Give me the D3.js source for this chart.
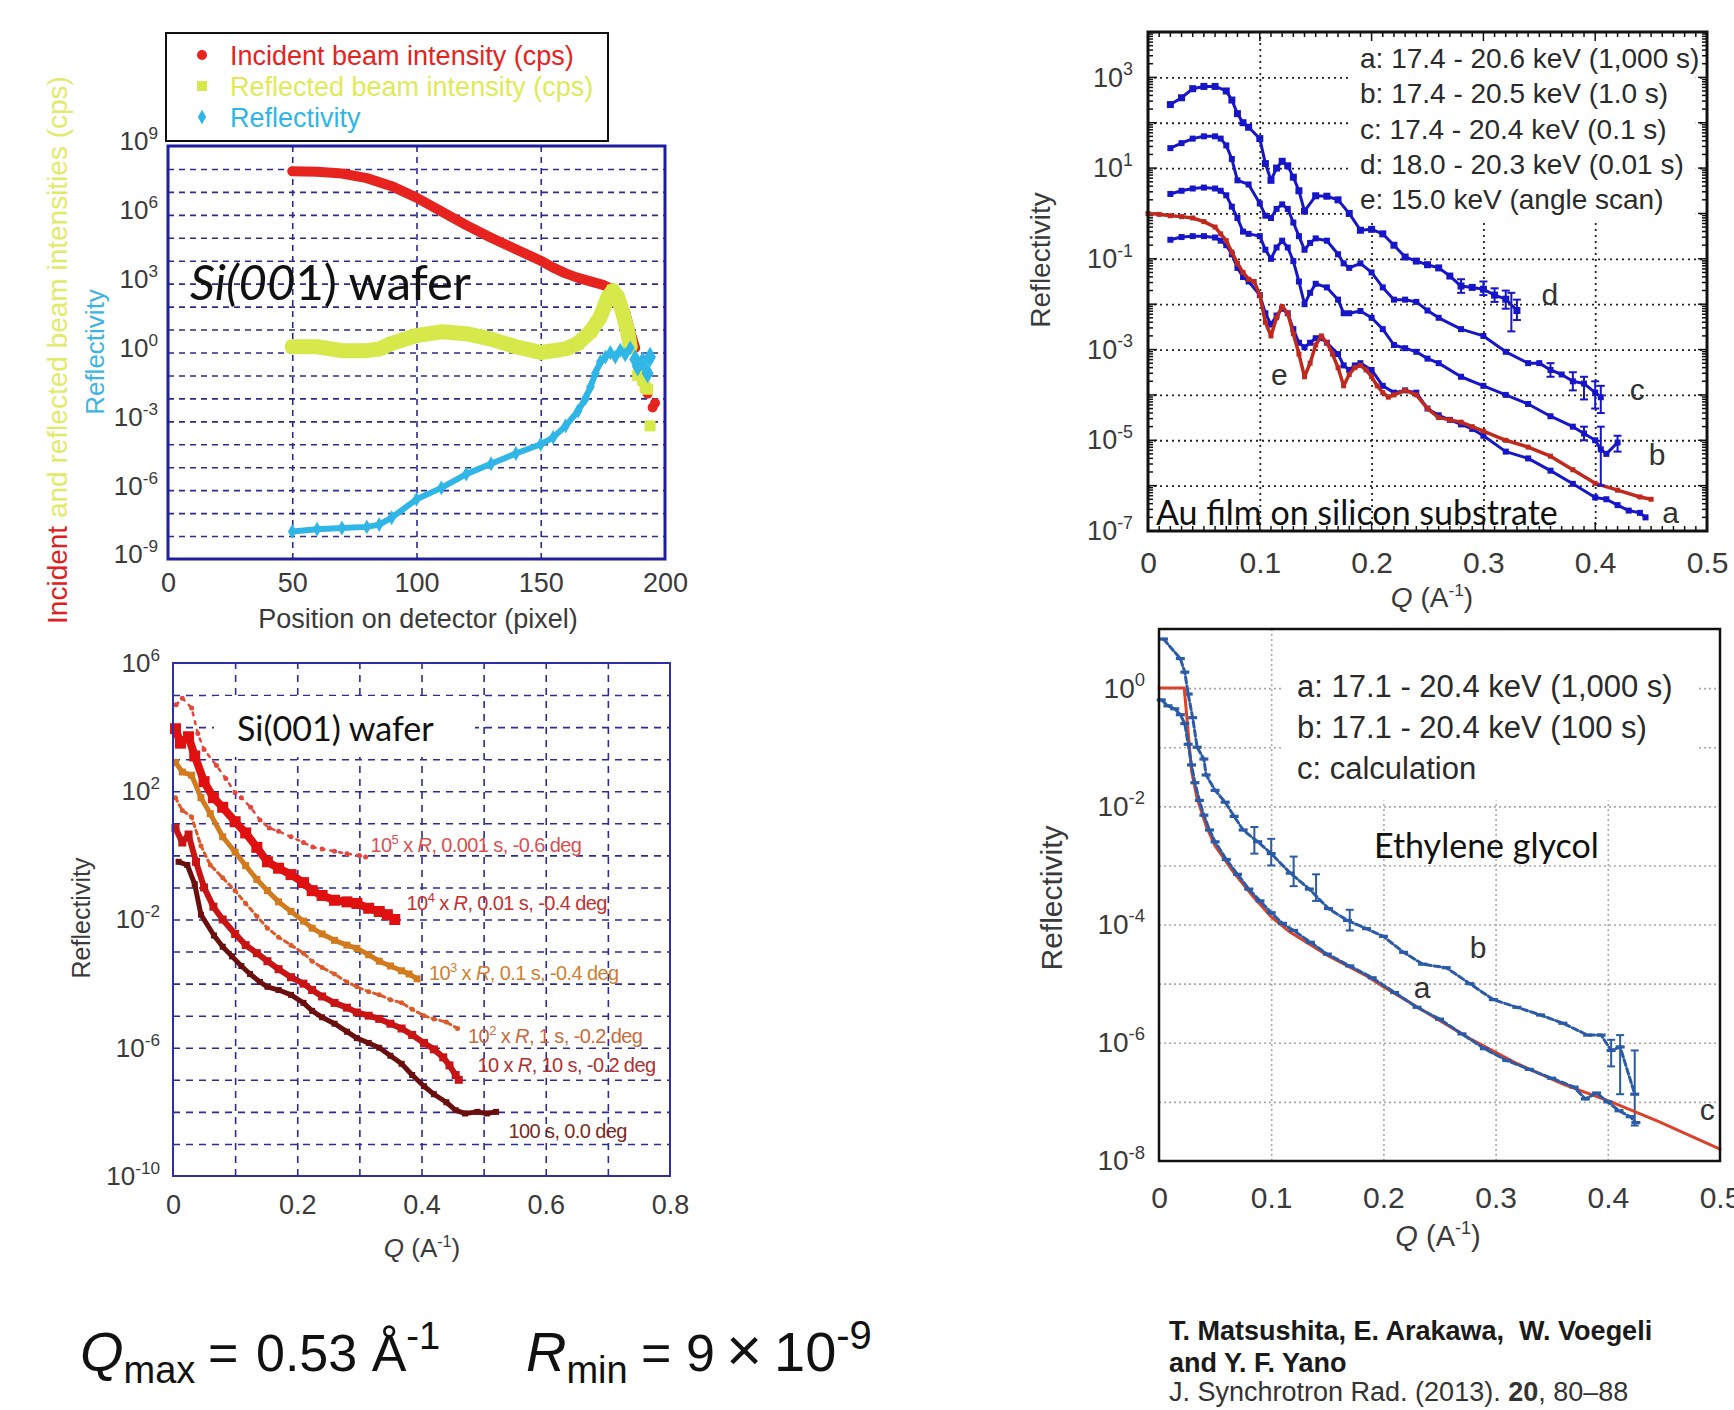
<!DOCTYPE html>
<html>
<head>
<meta charset="utf-8">
<script src="https://cdn.jsdelivr.net/npm/d3@7"></script>
<style>
  body { margin: 0; background: #fff; }
  svg { display: block; }
  text { font-family: "Liberation Sans", Arial, sans-serif; }
  .cal { font-family: Lato, "Open Sans", sans-serif; }
</style>
</head>
<body>
<svg id="chart" width="1734" height="1410"></svg>
<script>
// ---------- data (values are log10 of the intensity / reflectivity) ----------

// panel 1: intensities vs detector pixel
const p1XTicks = [0, 50, 100, 150, 200];
const p1YTickExps = [-9, -6, -3, 0, 3, 6, 9];
const p1GridX = [50, 100, 150];
const incident = [[50,7.9],[60,7.88],[70,7.8],[80,7.6],[90,7.25],[100,6.75],[110,6.15],[120,5.55],[130,5.0],[140,4.5],[150,4.0],[155,3.7],[160,3.45],[165,3.25],[170,3.1],[175,2.95],[178,2.8],[181,2.45],[184,1.75],[186,0.9],[188,0.2]];
const incidentTail = [[191,-1.3],[192,-1.6],[193,-1.8],[195,-2.4],[196,-2.2]];
const reflected = [[50,0.25],[60,0.25],[70,0.08],[80,0.08],[85,0.15],[90,0.4],[100,0.74],[110,0.9],[120,0.82],[130,0.58],[140,0.25],[150,0.0],[160,0.16],[165,0.4],[170,0.9],[174,1.56],[177,2.4],[179,2.7],[181,2.4],[183,1.73],[185,0.9],[186,0.25]];
const reflectedTail = [[189,-1.0],[191,-1.2],[192,-1.5],[193,-1.6],[194,-3.2]];
const reflectivity1 = [[50,-7.8],[60,-7.7],[70,-7.65],[80,-7.6],[85,-7.5],[90,-7.2],[100,-6.4],[110,-5.9],[120,-5.3],[130,-4.85],[140,-4.4],[150,-4.0],[155,-3.7],[160,-3.2],[165,-2.55],[168,-2.0],[170,-1.5],[172,-0.9],[174,-0.4],[176,-0.2],[178,0.0],[180,-0.2],[182,0.1],[184,-0.1],[186,0.2]];
const reflectivity1Tail = [[188,-0.3],[189,-0.6],[191,-0.4],[193,-0.9],[194,-0.2]];
const p1Legend = ['Incident beam intensity (cps)', 'Reflected beam intensity (cps)', 'Reflectivity'];

// panel 2: Si(001) wafer, various exposure times
const p2XTicks = [0, 0.2, 0.4, 0.6, 0.8];
const p2YTickExps = [-10, -6, -2, 2, 6];
const p2GridX = [0.1, 0.2, 0.3, 0.4, 0.5, 0.6, 0.7];
const si1e5 = [[0.005,4.7],[0.015,4.9],[0.03,4.6],[0.04,3.8],[0.05,3.3],[0.07,2.8],[0.085,2.4],[0.1,1.95],[0.11,1.8],[0.125,1.5],[0.14,1.1],[0.155,0.85],[0.17,0.75],[0.19,0.58],[0.21,0.4],[0.225,0.26],[0.24,0.2],[0.26,0.13],[0.28,0.05],[0.3,0.0],[0.31,-0.05]];
const si1e4 = [[0.004,3.95],[0.012,3.5],[0.025,3.7],[0.035,3.1],[0.05,2.3],[0.065,1.8],[0.08,1.5],[0.1,1.05],[0.117,0.7],[0.135,0.25],[0.152,-0.2],[0.17,-0.4],[0.19,-0.6],[0.21,-0.85],[0.224,-1.1],[0.24,-1.25],[0.26,-1.4],[0.28,-1.45],[0.296,-1.5],[0.315,-1.65],[0.332,-1.75],[0.345,-1.85],[0.357,-2.0]];
const si1e3 = [[0.004,2.9],[0.015,2.6],[0.03,2.5],[0.045,1.8],[0.06,1.3],[0.08,0.58],[0.1,0.1],[0.117,-0.32],[0.135,-0.75],[0.152,-1.1],[0.17,-1.45],[0.19,-1.75],[0.21,-2.05],[0.224,-2.27],[0.24,-2.45],[0.26,-2.65],[0.28,-2.8],[0.296,-2.9],[0.315,-3.1],[0.332,-3.3],[0.35,-3.45],[0.368,-3.6],[0.38,-3.7],[0.393,-3.85]];
const si1e2 = [[0.004,1.8],[0.015,1.4],[0.03,1.2],[0.045,0.3],[0.06,-0.3],[0.08,-0.7],[0.1,-1.1],[0.117,-1.5],[0.135,-1.9],[0.152,-2.27],[0.17,-2.55],[0.19,-2.8],[0.21,-3.05],[0.224,-3.3],[0.24,-3.5],[0.26,-3.7],[0.28,-3.95],[0.296,-4.1],[0.315,-4.25],[0.332,-4.35],[0.35,-4.5],[0.368,-4.6],[0.385,-4.8],[0.404,-5.0],[0.42,-5.1],[0.44,-5.2],[0.458,-5.4]];
const si1e1 = [[0.004,0.85],[0.015,0.4],[0.025,0.65],[0.037,-0.2],[0.05,-1.0],[0.065,-1.6],[0.08,-2.0],[0.1,-2.45],[0.117,-2.8],[0.135,-3.05],[0.152,-3.3],[0.17,-3.55],[0.19,-3.8],[0.21,-4.0],[0.224,-4.2],[0.24,-4.4],[0.26,-4.6],[0.28,-4.75],[0.296,-4.9],[0.315,-5.0],[0.332,-5.1],[0.35,-5.25],[0.368,-5.4],[0.385,-5.6],[0.404,-5.85],[0.42,-6.05],[0.435,-6.3],[0.445,-6.55],[0.455,-6.85],[0.46,-7.0]];
const si1e0 = [[0.009,-0.2],[0.023,-0.3],[0.035,-0.9],[0.045,-1.85],[0.066,-2.5],[0.08,-2.85],[0.095,-3.15],[0.11,-3.45],[0.124,-3.7],[0.14,-3.95],[0.152,-4.1],[0.17,-4.2],[0.19,-4.35],[0.21,-4.6],[0.224,-4.85],[0.24,-5.05],[0.26,-5.25],[0.28,-5.5],[0.296,-5.7],[0.315,-5.85],[0.332,-6.0],[0.35,-6.25],[0.368,-6.5],[0.385,-6.85],[0.404,-7.2],[0.42,-7.45],[0.44,-7.7],[0.455,-7.95],[0.47,-8.05],[0.49,-8.0],[0.505,-8.05],[0.52,-8.0]];
// label anchor [Q, log], scale prefix, exponent, rest
const p2Labels = [
  [0.318, 0.33, '10', '5', ' x ', 'R', ', 0.001 s, -0.6 deg'],
  [0.376, -1.48, '10', '4', ' x ', 'R', ', 0.01 s, -0.4 deg'],
  [0.412, -3.66, '10', '3', ' x ', 'R', ', 0.1 s, -0.4 deg'],
  [0.475, -5.62, '10', '2', ' x ', 'R', ', 1 s, -0.2 deg'],
  [0.49, -6.53, '10', '', ' x ', 'R', ', 10 s, -0.2 deg'],
  [0.54, -8.6, '', '', '', '', '100 s, 0.0 deg']
];

// panel 3: Au film on silicon substrate
const p3XTicks = [0, 0.1, 0.2, 0.3, 0.4, 0.5];
const p3YTickExps = [-7, -5, -3, -1, 1, 3];
const p3GridX = [0.1, 0.2, 0.3, 0.4];
const auE = [[0.0,0],[0.01,-0.02],[0.02,-0.05],[0.03,-0.07],[0.04,-0.1],[0.05,-0.18],[0.06,-0.3],[0.065,-0.45],[0.07,-0.6],[0.075,-0.85],[0.08,-1.1],[0.085,-1.3],[0.09,-1.45],[0.095,-1.5],[0.1,-1.8],[0.105,-2.4],[0.11,-2.7],[0.115,-2.3],[0.12,-2.05],[0.125,-2.2],[0.13,-2.65],[0.135,-3.1],[0.14,-3.6],[0.145,-3.3],[0.15,-2.9],[0.155,-2.7],[0.16,-2.85],[0.165,-3.1],[0.17,-3.4],[0.175,-3.8],[0.18,-3.55],[0.185,-3.4],[0.19,-3.35],[0.195,-3.45],[0.2,-3.6],[0.205,-3.8],[0.21,-3.95],[0.215,-4.05],[0.22,-4.0],[0.23,-3.9],[0.24,-4.0],[0.25,-4.3],[0.26,-4.5],[0.27,-4.55],[0.28,-4.6],[0.29,-4.7],[0.3,-4.8],[0.32,-5.0],[0.34,-5.15],[0.36,-5.35],[0.38,-5.65],[0.4,-5.95],[0.42,-6.1],[0.44,-6.25],[0.45,-6.3]];
const auA = [[0.02,-0.58],[0.03,-0.52],[0.04,-0.5],[0.05,-0.5],[0.06,-0.53],[0.065,-0.6],[0.07,-0.7],[0.075,-0.9],[0.08,-1.2],[0.085,-1.4],[0.09,-1.5],[0.1,-1.8],[0.105,-2.2],[0.11,-2.45],[0.115,-2.25],[0.12,-2.1],[0.125,-2.2],[0.13,-2.55],[0.135,-2.85],[0.14,-2.95],[0.145,-2.85],[0.15,-2.75],[0.155,-2.75],[0.16,-2.85],[0.17,-3.1],[0.175,-3.35],[0.18,-3.45],[0.185,-3.35],[0.19,-3.3],[0.2,-3.45],[0.21,-3.8],[0.22,-3.95],[0.23,-3.9],[0.24,-3.95],[0.25,-4.3],[0.26,-4.45],[0.27,-4.55],[0.28,-4.65],[0.29,-4.75],[0.3,-4.9],[0.32,-5.25],[0.34,-5.4],[0.36,-5.67],[0.38,-5.96],[0.4,-6.26],[0.41,-6.3],[0.42,-6.43],[0.43,-6.55],[0.44,-6.6],[0.445,-6.7]];
const auB = [[0.02,0.43],[0.03,0.5],[0.04,0.55],[0.05,0.57],[0.06,0.55],[0.065,0.5],[0.07,0.4],[0.075,0.15],[0.08,-0.1],[0.085,-0.4],[0.09,-0.45],[0.1,-0.5],[0.105,-0.8],[0.11,-1.0],[0.115,-0.75],[0.12,-0.6],[0.125,-0.75],[0.13,-1.05],[0.135,-1.5],[0.14,-2.0],[0.145,-1.75],[0.15,-1.55],[0.16,-1.63],[0.17,-1.9],[0.175,-2.2],[0.18,-2.2],[0.19,-2.15],[0.2,-2.3],[0.21,-2.55],[0.22,-2.9],[0.23,-2.97],[0.24,-3.05],[0.25,-3.2],[0.26,-3.3],[0.28,-3.6],[0.3,-3.8],[0.32,-4.0],[0.34,-4.2],[0.36,-4.47],[0.38,-4.7],[0.39,-4.85],[0.4,-5.0],[0.405,-5.2],[0.41,-5.3],[0.42,-5.05]];
const auC = [[0.02,1.44],[0.03,1.55],[0.04,1.65],[0.05,1.7],[0.06,1.7],[0.065,1.65],[0.07,1.5],[0.075,1.2],[0.08,0.73],[0.09,0.64],[0.1,0.22],[0.105,-0.05],[0.11,-0.1],[0.115,0.1],[0.12,0.2],[0.125,0.1],[0.13,-0.2],[0.135,-0.5],[0.14,-0.8],[0.145,-0.65],[0.15,-0.55],[0.16,-0.6],[0.17,-0.9],[0.175,-1.1],[0.18,-1.2],[0.19,-1.1],[0.2,-1.3],[0.21,-1.63],[0.22,-1.9],[0.23,-1.9],[0.24,-1.95],[0.25,-2.14],[0.26,-2.3],[0.28,-2.55],[0.3,-2.7],[0.32,-3.05],[0.34,-3.3],[0.35,-3.3],[0.36,-3.45],[0.37,-3.55],[0.38,-3.7],[0.39,-3.75],[0.4,-3.95],[0.405,-4.05]];
const auD = [[0.02,2.4],[0.03,2.55],[0.04,2.75],[0.05,2.8],[0.06,2.8],[0.07,2.7],[0.075,2.5],[0.08,2.2],[0.085,2.0],[0.09,1.9],[0.1,1.65],[0.105,1.1],[0.11,0.73],[0.115,1.0],[0.12,1.15],[0.125,1.05],[0.13,0.8],[0.135,0.5],[0.14,0.05],[0.15,0.39],[0.16,0.38],[0.17,0.3],[0.18,0.0],[0.19,-0.37],[0.2,-0.35],[0.21,-0.45],[0.22,-0.7],[0.23,-0.96],[0.24,-1.05],[0.25,-1.13],[0.26,-1.2],[0.27,-1.38],[0.28,-1.6],[0.29,-1.63],[0.3,-1.67],[0.31,-1.8],[0.32,-1.89],[0.33,-2.14]];
const auErr = [[0.28,-1.75,-1.45],[0.3,-1.8,-1.5],[0.31,-1.95,-1.65],[0.32,-2.1,-1.7],[0.325,-2.6,-1.75],[0.33,-2.35,-1.9],
  [0.36,-3.6,-3.3],[0.38,-3.9,-3.5],[0.39,-4.1,-3.6],[0.4,-4.3,-3.7],[0.405,-4.4,-3.8],
  [0.39,-5.0,-4.7],[0.405,-6.0,-4.7],[0.42,-5.25,-4.9]];
const p3Legend = ['a: 17.4 - 20.6 keV (1,000 s)', 'b: 17.4 - 20.5 keV (1.0 s)', 'c: 17.4 - 20.4 keV (0.1 s)', 'd: 18.0 - 20.3 keV (0.01 s)', 'e: 15.0 keV  (angle scan)'];
const p3Tags = [[0.352,-1.8,'d'],[0.431,-3.9,'c'],[0.448,-5.33,'b'],[0.46,-6.6,'a'],[0.11,-3.57,'e']];

// panel 4: ethylene glycol
const p4XTicks = [0, 0.1, 0.2, 0.3, 0.4, 0.5];
const p4YTickExps = [-8, -6, -4, -2, 0];
const p4GridX = [0.1, 0.2, 0.3, 0.4];
const egCalc = [[0,0],[0.0225,0],[0.025,-0.53],[0.029,-1.4],[0.034,-1.87],[0.042,-2.33],[0.05,-2.67],[0.067,-3.13],[0.084,-3.53],[0.1,-3.87],[0.117,-4.13],[0.151,-4.53],[0.185,-4.87],[0.2,-5.05],[0.235,-5.45],[0.277,-5.93],[0.319,-6.35],[0.36,-6.7],[0.403,-7.0],[0.445,-7.33],[0.5,-7.8]];
const egA = [[0.002,-0.2],[0.008,-0.3],[0.014,-0.35],[0.019,-0.45],[0.023,-0.6],[0.026,-0.95],[0.029,-1.3],[0.032,-1.6],[0.036,-1.9],[0.04,-2.15],[0.045,-2.4],[0.05,-2.6],[0.06,-2.9],[0.07,-3.15],[0.08,-3.4],[0.09,-3.6],[0.1,-3.8],[0.11,-3.98],[0.12,-4.1],[0.135,-4.3],[0.15,-4.5],[0.17,-4.7],[0.19,-4.9],[0.21,-5.15],[0.23,-5.4],[0.25,-5.6],[0.27,-5.85],[0.29,-6.1],[0.31,-6.3],[0.33,-6.45],[0.35,-6.6],[0.37,-6.75],[0.38,-6.95],[0.39,-6.85],[0.4,-7.0],[0.41,-7.15],[0.42,-7.25],[0.425,-7.35]];
const egB = [[0.004,0.83],[0.019,0.5],[0.023,0.27],[0.026,-0.1],[0.03,-0.5],[0.034,-1.0],[0.04,-1.2],[0.042,-1.47],[0.05,-1.73],[0.059,-1.93],[0.067,-2.17],[0.075,-2.4],[0.088,-2.6],[0.1,-2.8],[0.117,-3.13],[0.134,-3.4],[0.151,-3.73],[0.168,-3.93],[0.185,-4.07],[0.2,-4.2],[0.218,-4.47],[0.235,-4.67],[0.256,-4.73],[0.277,-5.0],[0.298,-5.27],[0.319,-5.4],[0.34,-5.53],[0.36,-5.67],[0.382,-5.87],[0.394,-5.87],[0.403,-6.13],[0.411,-6.07],[0.424,-6.87]];
const egErr = [[0.085,-2.8,-2.35],[0.1,-3.0,-2.55],[0.12,-3.35,-2.85],[0.14,-3.6,-3.15],[0.17,-4.1,-3.75],[0.403,-6.4,-5.95],[0.411,-6.87,-5.87],[0.424,-7.4,-6.13]];
const p4Legend = ['a: 17.1 - 20.4 keV (1,000 s)', 'b: 17.1 - 20.4 keV (100 s)', 'c: calculation'];
const p4Tags = [[0.277,-4.4,'b'],[0.227,-5.07,'a'],[0.482,-7.13,'c']];

// ---------- helpers ----------
const svg = d3.select('#chart');
svg.append('rect').attr('width', 1734).attr('height', 1410).attr('fill', '#fff');

function makePanel(f) {
  const g = svg.append('g');
  const x = d3.scaleLinear().domain(f.xDomain).range([f.x0, f.x1]);
  const y = d3.scaleLog().domain(f.yDomain).range([f.y1, f.y0]);
  return { g, x, y, f };
}

function grid(p, xs, exps, st) {
  const f = p.f;
  p.g.append('g').attr('transform', `translate(0,${f.y1})`)
    .call(d3.axisBottom(p.x).tickValues(xs).tickSize(-(f.y1 - f.y0)).tickFormat(''))
    .call(s => { s.select('.domain').remove(); s.selectAll('line').attr('stroke', st.color).attr('stroke-width', st.w).attr('stroke-dasharray', st.dash); });
  p.g.append('g').attr('transform', `translate(${f.x0},0)`)
    .call(d3.axisLeft(p.y).tickValues(exps.map(e => 10 ** e)).tickSize(-(f.x1 - f.x0)).tickFormat(''))
    .call(s => { s.select('.domain').remove(); s.selectAll('line').attr('stroke', st.color).attr('stroke-width', st.w).attr('stroke-dasharray', st.dash); });
}

function frame(p, color, w) {
  const f = p.f;
  p.g.append('rect').attr('x', f.x0).attr('y', f.y0).attr('width', f.x1 - f.x0).attr('height', f.y1 - f.y0)
    .attr('fill', 'none').attr('stroke', color).attr('stroke-width', w);
}

function xTickLabels(p, vals, size, pad) {
  p.g.append('g').attr('transform', `translate(0,${p.f.y1})`)
    .call(d3.axisBottom(p.x).tickValues(vals).tickSize(0).tickPadding(pad).tickFormat(d => d3.format('~g')(d)))
    .call(s => { s.select('.domain').remove(); s.attr('font-size', size).attr('font-family', null); s.selectAll('text').attr('fill', '#3a3a3a'); });
}

function yTickLabels(p, exps, size, pad, dy) {
  p.g.append('g').attr('transform', `translate(${p.f.x0},0)`)
    .call(d3.axisLeft(p.y).tickValues(exps.map(e => 10 ** e)).tickSize(0).tickPadding(pad).tickFormat(''))
    .call(s => {
      s.select('.domain').remove();
      s.attr('font-size', size).attr('font-family', null);
      s.selectAll('.tick text').attr('fill', '#3a3a3a').attr('dy', dy).each(function (d) {
        const t = d3.select(this);
        t.append('tspan').text('10');
        t.append('tspan').attr('font-size', size * 0.66).attr('dy', -size * 0.42).text(String(Math.round(Math.log10(d))));
      });
    });
}

function drawSeries(p, data, o) {
  const px = d => p.x(d[0]), py = d => p.y(10 ** d[1]);
  if (o.lineW) {
    p.g.append('path').attr('d', d3.line().x(px).y(py)(data))
      .attr('fill', 'none').attr('stroke', o.color).attr('stroke-width', o.lineW)
      .attr('stroke-linejoin', 'round').attr('stroke-linecap', 'round')
      .attr('stroke-dasharray', o.dash || null);
  }
  const m = p.g.append('g').attr('fill', o.color);
  const s = o.size;
  if (o.shape === 'circle') {
    m.selectAll('circle').data(data).join('circle').attr('cx', px).attr('cy', py).attr('r', s / 2);
  } else if (o.shape === 'square') {
    m.selectAll('rect').data(data).join('rect').attr('x', d => px(d) - s / 2).attr('y', d => py(d) - s / 2).attr('width', s).attr('height', s);
  } else if (o.shape === 'dash') {
    m.selectAll('rect').data(data).join('rect').attr('x', d => px(d) - s / 2).attr('y', d => py(d) - 1.6).attr('width', s).attr('height', 3.2);
  } else if (o.shape === 'diamond') {
    const sym = d3.symbol().type(d3.symbolDiamond).size(s * s);
    m.selectAll('path').data(data).join('path').attr('transform', d => `translate(${px(d)},${py(d)})`).attr('d', sym);
  }
}

function errorBars(p, data, color, w) {
  const g = p.g.append('g').attr('stroke', color).attr('stroke-width', w).attr('fill', 'none');
  data.forEach(d => {
    const x = p.x(d[0]), lo = p.y(10 ** d[1]), hi = p.y(10 ** d[2]);
    g.append('line').attr('x1', x).attr('x2', x).attr('y1', lo).attr('y2', hi);
    g.append('line').attr('x1', x - 4).attr('x2', x + 4).attr('y1', lo).attr('y2', lo);
    g.append('line').attr('x1', x - 4).attr('x2', x + 4).attr('y1', hi).attr('y2', hi);
  });
}

function qTitle(g, x, y, size) {
  const t = g.append('text').attr('x', x).attr('y', y).attr('font-size', size).attr('text-anchor', 'middle').attr('fill', '#3a3a3a');
  t.append('tspan').attr('font-style', 'italic').text('Q');
  t.append('tspan').text(' (A');
  t.append('tspan').attr('font-size', size * 0.62).attr('dy', -size * 0.4).text('-1');
  t.append('tspan').attr('dy', size * 0.4).text(')');
}

function yTitle(g, x, y, size, txt) {
  g.append('text').attr('transform', `translate(${x},${y}) rotate(-90)`).attr('font-size', size)
    .attr('text-anchor', 'middle').attr('fill', '#3a3a3a').text(txt);
}

// ---------- panel 1 ----------
const p1 = makePanel({ x0: 168, x1: 665, y0: 146, y1: 559, xDomain: [0, 200], yDomain: [1e-9, 1e9] });
grid(p1, p1GridX, d3.range(-8, 9), { color: '#2b2b8c', w: 1.6, dash: '6,5' });
drawSeries(p1, incident, { color: '#e6231e', lineW: 10, shape: 'circle', size: 9 });
drawSeries(p1, incidentTail, { color: '#e6231e', shape: 'circle', size: 10 });
drawSeries(p1, reflected, { color: '#d6e84a', lineW: 15, shape: 'square', size: 12 });
drawSeries(p1, reflectedTail, { color: '#d6e84a', shape: 'square', size: 11 });
drawSeries(p1, reflectivity1, { color: '#2fb6e6', lineW: 6, shape: 'diamond', size: 8 });
drawSeries(p1, reflectivity1Tail, { color: '#2fb6e6', shape: 'diamond', size: 11 });
frame(p1, '#1e1ea0', 3);
xTickLabels(p1, p1XTicks, 27, 14);
yTickLabels(p1, p1YTickExps, 26, 10, '0.15em');

// multi-colour y title
{
  const t = p1.g.append('text').attr('transform', 'translate(67,350) rotate(-90)').attr('font-size', 28).attr('text-anchor', 'middle');
  t.append('tspan').attr('fill', '#e02020').text('Incident');
  t.append('tspan').attr('fill', '#e2ea6a').text(' and reflected beam intensities (cps)');
  p1.g.append('text').attr('transform', 'translate(104,352) rotate(-90)').attr('font-size', 26)
    .attr('text-anchor', 'middle').attr('fill', '#3cb4e6').text('Reflectivity');
}
p1.g.append('text').attr('x', 418).attr('y', 628).attr('font-size', 27).attr('text-anchor', 'middle').attr('fill', '#3a3a3a').text('Position on detector (pixel)');

// legend
{
  const lg = p1.g.append('g');
  lg.append('rect').attr('x', 166).attr('y', 33).attr('width', 442).attr('height', 108).attr('fill', '#fff').attr('stroke', '#111').attr('stroke-width', 2);
  const cols = ['#e6231e', '#d6e84a', '#2fb6e6'];
  p1Legend.forEach((txt, i) => {
    const cy = 55 + i * 31;
    if (i === 0) lg.append('circle').attr('cx', 202).attr('cy', cy).attr('r', 5).attr('fill', cols[i]);
    if (i === 1) lg.append('rect').attr('x', 197).attr('y', cy - 5).attr('width', 10).attr('height', 10).attr('fill', cols[i]);
    if (i === 2) lg.append('path').attr('transform', `translate(202,${cy})`).attr('d', d3.symbol().type(d3.symbolDiamond).size(60)).attr('fill', cols[i]);
    lg.append('text').attr('x', 230).attr('y', cy + 10).attr('font-size', 27).attr('fill', i === 1 ? '#e0ea58' : cols[i]).text(txt);
  });
}
{
  const t = p1.g.append('text').attr('class', 'cal').attr('x', 190).attr('y', 300).attr('font-size', 49).attr('fill', '#111');
  t.append('tspan').attr('font-style', 'italic').text('Si(00');
  t.append('tspan').text('1) wafer');
}

// ---------- panel 2 ----------
const p2 = makePanel({ x0: 173, x1: 670, y0: 663, y1: 1176, xDomain: [0, 0.8], yDomain: [1e-10, 1e6] });
grid(p2, p2GridX, d3.range(-9, 6), { color: '#2b2b96', w: 1.6, dash: '7,6' });
p2.g.append('rect').attr('x', 214).attr('y', 696).attr('width', 261).attr('height', 61).attr('fill', '#fff');
p2.g.append('text').attr('class', 'cal').attr('x', 237).attr('y', 741).attr('font-size', 34).attr('fill', '#111').text('Si(001) wafer');
drawSeries(p2, si1e5, { color: '#e4463e', lineW: 2.5, dash: '3,6', shape: 'circle', size: 5 });
drawSeries(p2, si1e4, { color: '#e01010', lineW: 8, shape: 'square', size: 11 });
drawSeries(p2, si1e3, { color: '#d27a1e', lineW: 5, shape: 'square', size: 7 });
drawSeries(p2, si1e2, { color: '#dc5a2a', lineW: 3, dash: '4,4', shape: 'circle', size: 5 });
drawSeries(p2, si1e1, { color: '#c81414', lineW: 6, shape: 'square', size: 8 });
drawSeries(p2, si1e0, { color: '#6a0e0e', lineW: 5, shape: 'square', size: 6 });
frame(p2, '#2e2ea8', 2);
xTickLabels(p2, p2XTicks, 27, 19);
yTickLabels(p2, p2YTickExps, 26, 13, '0.32em');
yTitle(p2.g, 90, 918, 25, 'Reflectivity');
qTitle(p2.g, 422, 1257, 26);
{
  const cols = ['#d85050', '#c43030', '#d08030', '#c86a3a', '#b03030', '#7a2a20'];
  p2Labels.forEach((l, i) => {
    const t = p2.g.append('text').attr('x', p2.x(l[0])).attr('y', p2.y(10 ** l[1]) + 7).attr('font-size', 20).attr('fill', cols[i]).attr('letter-spacing', -0.6);
    if (l[2]) t.append('tspan').text(l[2]);
    if (l[3]) t.append('tspan').attr('font-size', 13).attr('dy', -8).text(l[3]);
    if (l[4]) t.append('tspan').attr('dy', l[3] ? 8 : 0).text(l[4]);
    if (l[5]) t.append('tspan').attr('font-style', 'italic').text(l[5]);
    t.append('tspan').text(l[6]);
  });
}

// ---------- panel 3 ----------
const p3 = makePanel({ x0: 1148, x1: 1707, y0: 32, y1: 531, xDomain: [0, 0.5], yDomain: [1e-7, 1e4] });
grid(p3, p3GridX, d3.range(-6, 4), { color: '#222', w: 1.8, dash: '2,4' });
p3.g.append('rect').attr('x', p3.x(0.18)).attr('y', p3.y(10 ** 3.97)).attr('width', p3.x(0.49) - p3.x(0.18))
  .attr('height', p3.y(10 ** -0.2) - p3.y(10 ** 3.97)).attr('fill', '#fff');
{
  // minor ticks inside the frame
  const f = p3.f, tg = p3.g.append('g').attr('stroke', '#111').attr('stroke-width', 1.5);
  p3.y.ticks(120).forEach(v => {
    const yy = p3.y(v), major = Math.abs(Math.log10(v) - Math.round(Math.log10(v))) < 1e-6, L = major ? 9 : 5;
    tg.append('line').attr('x1', f.x0).attr('x2', f.x0 + L).attr('y1', yy).attr('y2', yy);
    tg.append('line').attr('x1', f.x1).attr('x2', f.x1 - L).attr('y1', yy).attr('y2', yy);
  });
  d3.range(0, 51).forEach(i => {
    const xx = p3.x(i / 100), L = i % 10 === 0 ? 9 : 5;
    tg.append('line').attr('x1', xx).attr('x2', xx).attr('y1', f.y0).attr('y2', f.y0 + L);
    tg.append('line').attr('x1', xx).attr('x2', xx).attr('y1', f.y1).attr('y2', f.y1 - L);
  });
}
drawSeries(p3, auD, { color: '#1616c8', lineW: 3, shape: 'square', size: 7 });
drawSeries(p3, auC, { color: '#1616c8', lineW: 3, shape: 'square', size: 6 });
drawSeries(p3, auB, { color: '#1616c8', lineW: 3, shape: 'square', size: 6 });
drawSeries(p3, auA, { color: '#1616c8', lineW: 3, shape: 'square', size: 6 });
drawSeries(p3, auE, { color: '#c02a1e', lineW: 3.5, shape: 'square', size: 5 });
errorBars(p3, auErr, '#1616c8', 2);
frame(p3, '#111', 3);
xTickLabels(p3, p3XTicks, 30, 21);
yTickLabels(p3, p3YTickExps, 27, 15, '0.32em');
yTitle(p3.g, 1050, 260, 28, 'Reflectivity');
qTitle(p3.g, 1432, 607, 28);
p3Legend.forEach((txt, i) => {
  p3.g.append('text').attr('x', 1360).attr('y', 68 + i * 35.3).attr('font-size', 28).attr('fill', '#2a2a2a').text(txt);
});
p3Tags.forEach(t => {
  p3.g.append('text').attr('x', p3.x(t[0])).attr('y', p3.y(10 ** t[1]) + 10).attr('font-size', 30).attr('fill', '#333').text(t[2]);
});
p3.g.append('text').attr('class', 'cal').attr('x', 1156).attr('y', 525).attr('font-size', 34).attr('fill', '#111').text('Au film on silicon substrate');

// ---------- panel 4 ----------
const p4 = makePanel({ x0: 1159, x1: 1720, y0: 629, y1: 1161, xDomain: [0, 0.5], yDomain: [1e-8, 1e1] });
grid(p4, p4GridX, d3.range(-7, 1), { color: '#a8a8a8', w: 1.6, dash: '2,3' });
p4.g.append('rect').attr('x', p4.x(0.11)).attr('y', p4.y(10 ** 0.98)).attr('width', p4.x(0.48) - p4.x(0.11))
  .attr('height', p4.y(10 ** -1.9) - p4.y(10 ** 0.98)).attr('fill', '#fff');
drawSeries(p4, egB, { color: '#2b5ba6', lineW: 3, dash: '6,3', shape: 'dash', size: 9 });
errorBars(p4, egErr, '#2b5ba6', 2);
drawSeries(p4, egCalc, { color: '#d9432b', lineW: 3 });
drawSeries(p4, egA, { color: '#2b5ba6', lineW: 3, dash: '6,3', shape: 'dash', size: 9 });
frame(p4, '#111', 2.5);
xTickLabels(p4, p4XTicks, 30, 26);
yTickLabels(p4, p4YTickExps, 28, 14, '0.32em');
yTitle(p4.g, 1062, 898, 30, 'Reflectivity');
qTitle(p4.g, 1438, 1246, 29);
p4Legend.forEach((txt, i) => {
  p4.g.append('text').attr('x', 1297).attr('y', 697 + i * 41).attr('font-size', 31).attr('fill', '#2a2a2a').text(txt);
});
p4Tags.forEach(t => {
  p4.g.append('text').attr('x', p4.x(t[0])).attr('y', p4.y(10 ** t[1]) + 10).attr('font-size', 30).attr('fill', '#333').text(t[2]);
});
p4.g.append('text').attr('class', 'cal').attr('x', 1374).attr('y', 858).attr('font-size', 34).attr('fill', '#111').text('Ethylene glycol');

// ---------- formula and citation ----------
{
  const f = svg.append('g').attr('class', 'cal').attr('fill', '#111');
  const q = f.append('text').attr('x', 80).attr('y', 1371).attr('font-size', 56);
  q.append('tspan').attr('font-style', 'italic').text('Q');
  q.append('tspan').attr('font-size', 38).attr('dy', 12).text('max');
  f.append('text').attr('x', 208).attr('y', 1371).attr('font-size', 52).text('=');
  const a = f.append('text').attr('x', 256).attr('y', 1371).attr('font-size', 52);
  a.append('tspan').text('0.53 Å');
  a.append('tspan').attr('font-size', 38).attr('dy', -22).text('-1');
  const r = f.append('text').attr('x', 526).attr('y', 1371).attr('font-size', 56);
  r.append('tspan').attr('font-style', 'italic').text('R');
  r.append('tspan').attr('font-size', 38).attr('dy', 12).text('min');
  f.append('text').attr('x', 641).attr('y', 1371).attr('font-size', 52).text('=');
  f.append('text').attr('x', 686).attr('y', 1371).attr('font-size', 52).text('9');
  f.append('text').attr('x', 726).attr('y', 1371).attr('font-size', 62).text('×');
  const b = f.append('text').attr('x', 774).attr('y', 1371).attr('font-size', 56);
  b.append('tspan').text('10');
  b.append('tspan').attr('font-size', 40).attr('dy', -22).text('-9');

  const c = svg.append('g').attr('fill', '#1a1a1a').attr('font-size', 27);
  c.append('text').attr('x', 1169).attr('y', 1340).attr('font-weight', 'bold').style('white-space', 'pre').text('T. Matsushita, E. Arakawa,  W. Voegeli');
  c.append('text').attr('x', 1169).attr('y', 1372).attr('font-weight', 'bold').text('and Y. F. Yano');
  const l3 = c.append('text').attr('x', 1169).attr('y', 1401).attr('fill', '#333');
  l3.append('tspan').text('J. Synchrotron Rad. (2013). ');
  l3.append('tspan').attr('font-weight', 'bold').text('20');
  l3.append('tspan').text(', 80–88');
}
</script>
</body>
</html>
